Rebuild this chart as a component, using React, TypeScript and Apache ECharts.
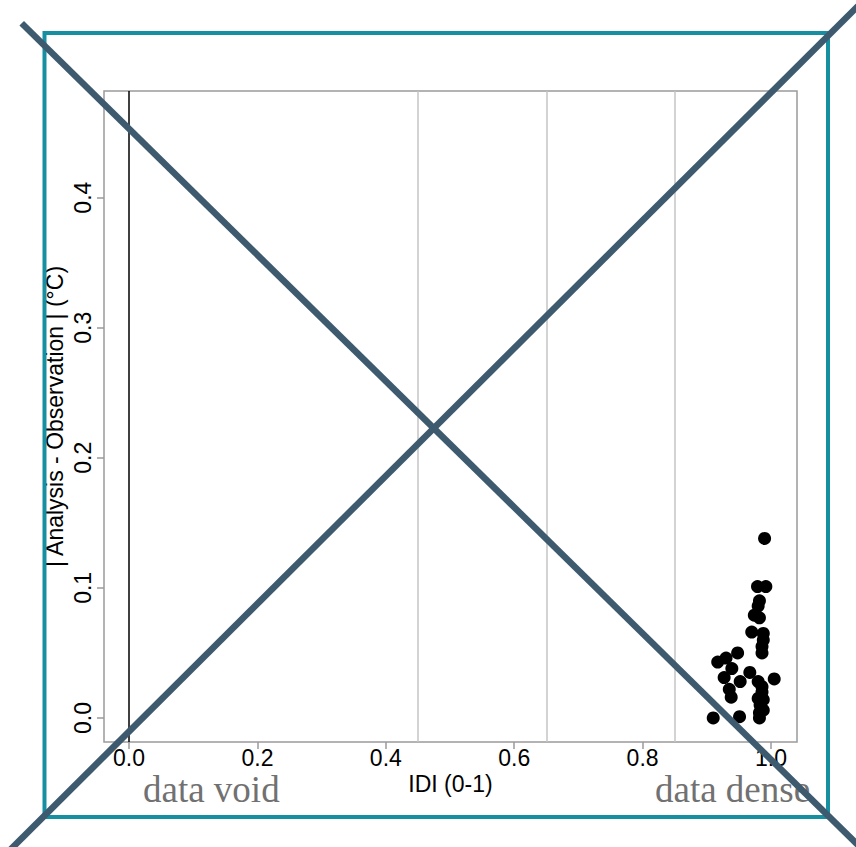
import React, { useEffect, useRef } from "react";
import * as echarts from "echarts";

// Station scores: interpolation density index (IDI) and absolute analysis error
const idiValues = [
  0.990, 0.979, 0.992, 0.982, 0.980, 0.974, 0.982, 0.970, 0.988, 0.988,
  0.986, 0.986, 0.948, 0.930, 0.917, 0.939, 0.967, 0.927, 1.005, 0.952,
  0.980, 0.986, 0.935, 0.986, 0.938, 0.980, 0.988, 0.983, 0.988, 0.982,
  0.910, 0.951, 0.982,
];
const errorValues = [
  0.138, 0.101, 0.101, 0.090, 0.086, 0.079, 0.077, 0.066, 0.065, 0.060,
  0.055, 0.050, 0.050, 0.046, 0.043, 0.038, 0.035, 0.031, 0.030, 0.028,
  0.028, 0.024, 0.022, 0.020, 0.016, 0.015, 0.014, 0.010, 0.006, 0.004,
  0.000, 0.001, 0.000,
];

const xTicks = [0, 0.2, 0.4, 0.6, 0.8, 1.0];
const yTicks = [0, 0.1, 0.2, 0.3, 0.4];
const referenceLines = [0.45, 0.65, 0.85];

const xTitle = "IDI (0-1)";
const yTitle = "| Analysis - Observation | (°C)";
const leftNote = "data void";
const rightNote = "data dense";

const W = 856;
const H = 847;
const SANS = "'Liberation Sans', Arial, sans-serif";
const SERIF = "'Liberation Serif', 'Times New Roman', serif";
const FS = 23;

export default function App() {
  const ref = useRef<HTMLDivElement>(null);

  useEffect(() => {
    if (!ref.current) return;
    const chart = echarts.init(ref.current, undefined, { renderer: "svg", width: W, height: H });

    const points = idiValues.map((x, i) => [x, errorValues[i]]);

    chart.setOption({
      animation: false,
      backgroundColor: "#ffffff",
      grid: {
        left: 104,
        top: 91,
        right: W - 797,
        bottom: H - 742,
        show: true,
        borderColor: "#9a9a9a",
        borderWidth: 1.5,
        backgroundColor: "transparent",
      },
      xAxis: {
        type: "value",
        min: -0.039,
        max: 1.0405,
        name: xTitle,
        nameLocation: "middle",
        nameGap: 30,
        nameMoveOverlap: false,
        nameTextStyle: { fontFamily: SANS, fontSize: FS, color: "#000" },
        axisLine: { show: false, onZero: false },
        splitLine: { show: false },
        axisTick: {
          show: true,
          customValues: xTicks,
          length: 7,
          lineStyle: { color: "#9a9a9a", width: 1.5 },
        },
        axisLabel: {
          customValues: xTicks,
          margin: 5,
          lineHeight: 22,
          fontFamily: SANS,
          fontSize: FS,
          color: "#000",
          formatter: (v: number) => v.toFixed(1),
        },
      },
      yAxis: {
        type: "value",
        min: -0.0185,
        max: 0.482,
        name: yTitle,
        nameLocation: "middle",
        nameRotate: 90,
        nameGap: 38,
        nameMoveOverlap: false,
        nameTextStyle: { fontFamily: SANS, fontSize: FS, color: "#000" },
        axisLine: { show: false, onZero: false },
        splitLine: { show: false },
        axisTick: {
          show: true,
          customValues: yTicks,
          length: 7,
          lineStyle: { color: "#9a9a9a", width: 1.5 },
        },
        axisLabel: {
          customValues: yTicks,
          rotate: 90,
          margin: 10,
          fontFamily: SANS,
          fontSize: FS,
          color: "#000",
          formatter: (v: number) => v.toFixed(1),
        },
      },
      series: [
        {
          type: "scatter",
          data: points,
          symbol: "circle",
          symbolSize: 13,
          itemStyle: { color: "#000", opacity: 1 },
          silent: true,
          markLine: {
            silent: true,
            symbol: "none",
            label: { show: false },
            data: [
              { xAxis: 0, lineStyle: { color: "#000", width: 1.5, type: "solid" } },
              ...referenceLines.map((v) => ({
                xAxis: v,
                lineStyle: { color: "#c4c4c4", width: 1.5, type: "solid" },
              })),
            ],
          },
        },
      ],
      graphic: [
        {
          type: "text",
          left: 143,
          top: 771,
          style: { text: leftNote, font: `37px ${SERIF}`, lineHeight: 24, fill: "#717171" },
          z: 10,
        },
        {
          type: "text",
          left: 655,
          top: 771,
          style: { text: rightNote, font: `37px ${SERIF}`, lineHeight: 24, fill: "#717171" },
          z: 10,
        },
        {
          type: "rect",
          shape: { x: 44.5, y: 33, width: 783.5, height: 784 },
          style: { fill: "none", stroke: "#1690a1", lineWidth: 4 },
          z: 20,
        },
        {
          type: "line",
          shape: { x1: 21.7, y1: 23.3, x2: 863, y2: 850 },
          style: { stroke: "#3e5a6f", lineWidth: 6.5, lineCap: "butt" },
          z: 30,
        },
        {
          type: "line",
          shape: { x1: 858, y1: 6, x2: 8, y2: 852 },
          style: { stroke: "#3e5a6f", lineWidth: 6.5, lineCap: "butt" },
          z: 30,
        },
      ],
    });

    return () => chart.dispose();
  }, []);

  return (
    <div
      ref={ref}
      style={{ position: "fixed", left: 0, top: 0, width: W, height: H, background: "#fff" }}
    />
  );
}
